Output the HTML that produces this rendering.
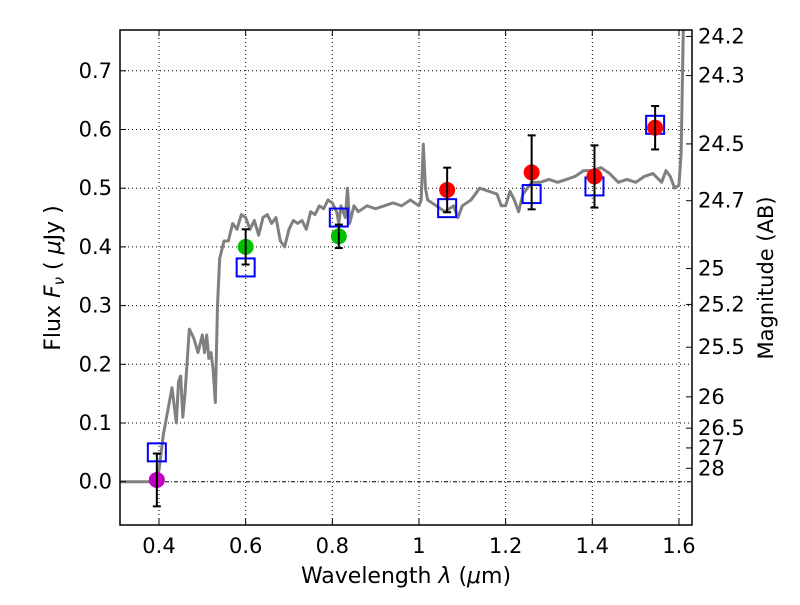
<!DOCTYPE html>
<html><head><meta charset="utf-8"><style>
body{margin:0;background:#fff;}
svg text{font-family:"DejaVu Sans","Liberation Sans",sans-serif;fill:#000;}
</style></head><body>
<svg id="chart" width="800" height="600" xmlns="http://www.w3.org/2000/svg">
<rect width="800" height="600" fill="#fff"/>
<g id="grid"></g>
<g id="model"></g>
<g id="marks"></g>
<g id="axes"></g>
<text x="406" y="583" font-size="22" text-anchor="middle">Wavelength  <tspan font-style="italic">λ</tspan> (<tspan font-style="italic">μ</tspan>m)</text>
<text transform="translate(60,278) rotate(-90)" font-size="22" text-anchor="middle">Flux  <tspan font-style="italic">F</tspan><tspan font-style="italic" font-size="15" dy="4">ν</tspan><tspan dy="-4">  ( </tspan><tspan font-style="italic">μ</tspan>Jy )</text>
<text transform="translate(773,278) rotate(-90)" font-size="21" text-anchor="middle">Magnitude (AB)</text>
</svg>
<script>
const xTicks=[0.4,0.6,0.8,1.0,1.2,1.4,1.6];
const xTickLabels=["0.4","0.6","0.8","1","1.2","1.4","1.6"];
const yTicks=[0,0.1,0.2,0.3,0.4,0.5,0.6,0.7];
const yTickLabels=["0.0","0.1","0.2","0.3","0.4","0.5","0.6","0.7"];
const magTicks=[24.2,24.3,24.5,24.7,25,25.2,25.5,26,26.5,27,28];
const magLabels=["24.2","24.3","24.5","24.7","25","25.2","25.5","26","26.5","27","28"];
const modelWave=[0.31,0.39,0.40,0.41,0.42,0.43,0.44,0.445,0.45,0.455,0.46,0.47,0.48,0.49,0.5,0.505,0.51,0.515,0.52,0.525,0.53,0.535,0.54,0.55,0.56,0.57,0.58,0.59,0.6,0.61,0.62,0.63,0.64,0.65,0.66,0.67,0.68,0.69,0.70,0.71,0.72,0.73,0.74,0.75,0.76,0.77,0.78,0.79,0.80,0.81,0.815,0.82,0.83,0.835,0.84,0.85,0.86,0.88,0.90,0.92,0.94,0.96,0.98,1.0,1.005,1.01,1.015,1.02,1.04,1.06,1.08,1.09,1.10,1.12,1.14,1.16,1.18,1.19,1.20,1.21,1.22,1.23,1.24,1.26,1.28,1.30,1.32,1.34,1.36,1.38,1.40,1.42,1.44,1.46,1.48,1.50,1.52,1.54,1.56,1.57,1.58,1.59,1.60,1.605,1.61];
const modelFlux=[0,0,0.02,0.08,0.12,0.16,0.10,0.17,0.18,0.11,0.15,0.26,0.245,0.22,0.25,0.22,0.25,0.21,0.22,0.19,0.135,0.30,0.38,0.41,0.41,0.44,0.43,0.455,0.45,0.43,0.445,0.42,0.45,0.455,0.44,0.45,0.41,0.40,0.43,0.445,0.44,0.445,0.43,0.46,0.455,0.47,0.465,0.48,0.475,0.46,0.44,0.47,0.45,0.50,0.44,0.47,0.46,0.47,0.465,0.47,0.475,0.47,0.48,0.47,0.48,0.575,0.50,0.48,0.47,0.46,0.47,0.45,0.47,0.48,0.50,0.495,0.49,0.47,0.47,0.495,0.48,0.46,0.49,0.51,0.51,0.515,0.51,0.515,0.52,0.53,0.53,0.535,0.525,0.51,0.515,0.51,0.52,0.525,0.51,0.53,0.52,0.50,0.505,0.56,0.77];
const obsWave=[0.395,0.6,0.815,1.065,1.26,1.405,1.545];
const obsFlux=[0.003,0.40,0.418,0.497,0.527,0.52,0.603];
const obsErr=[0.045,0.03,0.02,0.038,0.063,0.053,0.037];
const obsColor=["#bf00bf","#00c000","#00c000","#ff0000","#ff0000","#ff0000","#ff0000"];
const modelPhot=[0.05,0.365,0.45,0.466,0.49,0.503,0.608];

const L=120,R=692,T=30,B=525;
const X=v=>159+(v-0.4)*433.3;
const Y=v=>481.7-v*587;
const NS="http://www.w3.org/2000/svg";
function mk(p,t,a){const e=document.createElementNS(NS,t);for(const k in a)e.setAttribute(k,a[k]);p.appendChild(e);return e;}
const grid=document.getElementById('grid'),axes=document.getElementById('axes'),model=document.getElementById('model'),marks=document.getElementById('marks');
xTicks.forEach((t,i)=>{const x=X(t);
 const g=mk(grid,'line',{x1:x,x2:x,y1:T,y2:B,stroke:'#000','stroke-width':1,'stroke-dasharray':'1,3'});
 
 mk(axes,'line',{x1:x,x2:x,y1:B,y2:B-6,stroke:'#000'});mk(axes,'line',{x1:x,x2:x,y1:T,y2:T+6,stroke:'#000'});
 const tx=mk(axes,'text',{x:x,y:553,'font-size':21,'text-anchor':'middle'});tx.textContent=xTickLabels[i];
 });
yTicks.forEach((t,i)=>{const y=Y(t);
 const g=mk(grid,'line',{x1:L,x2:R,y1:y,y2:y,stroke:'#000','stroke-width':1,'stroke-dasharray':t===0?'4,2,1,2':'1,3'});
 
 mk(axes,'line',{x1:L,x2:L+6,y1:y,y2:y,stroke:'#000'});
 const tx=mk(axes,'text',{x:L-8,y:y+7,'font-size':21,'text-anchor':'end'});tx.textContent=yTickLabels[i];
 });
magTicks.forEach((m,i)=>{const y=Y(Math.pow(10,-0.4*(m-23.9)));
 mk(axes,'line',{x1:R,x2:R-6,y1:y,y2:y,stroke:'#000'});
 const tx=mk(axes,'text',{x:R+6,y:y+7,'font-size':21});tx.textContent=magLabels[i];
 });
const fr=mk(axes,'rect',{x:L,y:T,width:R-L,height:B-T,fill:'none',stroke:'#000','stroke-width':1.5});

const cp=mk(model,'clipPath',{id:'cp'});mk(cp,'rect',{x:L,y:T,width:R-L,height:B-T});
const pl=mk(model,'polyline',{points:modelWave.map((w,i)=>X(w)+','+Y(modelFlux[i])).join(' '),fill:'none',stroke:'#808080','stroke-width':3,'stroke-linejoin':'round','clip-path':'url(#cp)'});

obsWave.forEach((w,i)=>{const x=X(w);
 const s=mk(marks,'rect',{x:x-9,y:Y(modelPhot[i])-9,width:18,height:18,fill:'none',stroke:'#0000ff','stroke-width':2});
 
 const c=mk(marks,'circle',{cx:x,cy:Y(obsFlux[i]),r:8,fill:obsColor[i]});
 
 const y1=Y(obsFlux[i]+obsErr[i]),y2=Y(obsFlux[i]-obsErr[i]);
 const e=mk(marks,'g',{stroke:'#000','stroke-width':2});
 
 mk(e,'line',{x1:x,x2:x,y1:y1,y2:y2});mk(e,'line',{x1:x-4,x2:x+4,y1:y1,y2:y1});mk(e,'line',{x1:x-4,x2:x+4,y1:y2,y2:y2});
});
</script>
</body></html>
